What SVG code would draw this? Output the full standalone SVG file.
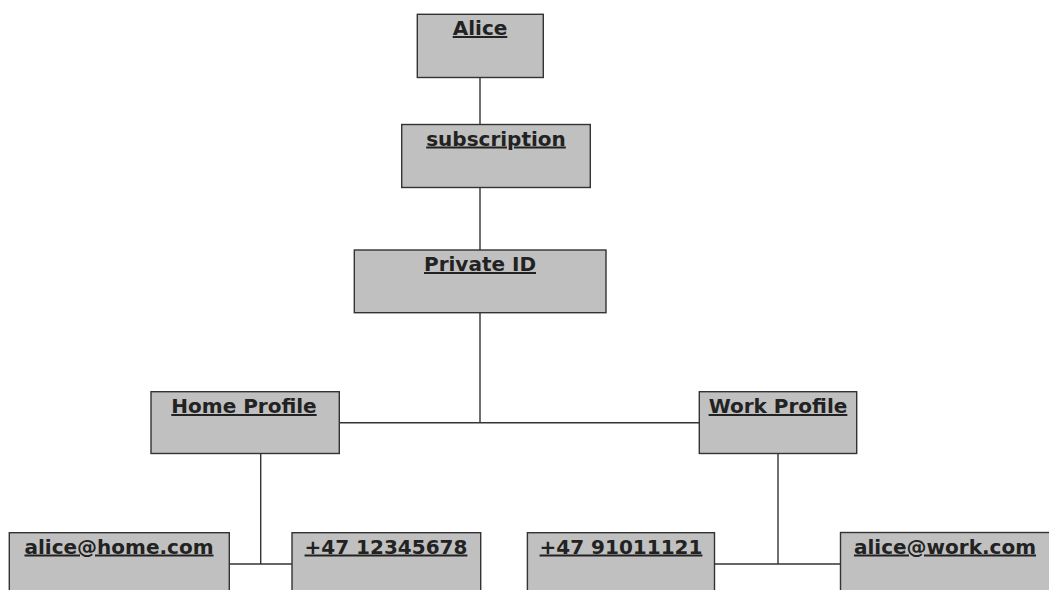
<svg xmlns="http://www.w3.org/2000/svg" width="1049" height="590" viewBox="0 0 1049 590">
  <style>
    .box { fill: #c0c0c0; stroke: #333333; stroke-width: 1.4; }
    .label { font-family: "DejaVu Sans", Verdana, sans-serif; font-weight: bold; font-size: 20px; fill: #222222; text-anchor: middle; text-decoration: underline; }
    .link { stroke: #333333; stroke-width: 1.4; fill: none; }
  </style>
  <rect width="1049" height="590" fill="#ffffff"/>

  <!-- tree connectors -->
  <g id="connectors">
    <path class="link" d="M480 77.5 V124.5"/>
    <path class="link" d="M480 187.5 V250"/>
    <path class="link" d="M480 313 V422.7"/>
    <path class="link" d="M339.3 422.7 H699.3"/>
    <path class="link" d="M260.7 453.5 V564"/>
    <path class="link" d="M229.3 564 H292"/>
    <path class="link" d="M778 453.5 V564"/>
    <path class="link" d="M714.5 564 H840.5"/>
  </g>

  <g id="alice">
    <rect class="box" x="417.3" y="14.3" width="126" height="63.2"/>
    <text class="label" x="480" y="35">Alice</text>
  </g>
  <g id="subscription">
    <rect class="box" x="401.7" y="124.5" width="188.6" height="63"/>
    <text class="label" x="496" y="145.5">subscription</text>
  </g>
  <g id="private-id">
    <rect class="box" x="354.3" y="250" width="251.7" height="62.7"/>
    <text class="label" x="480" y="271">Private ID</text>
  </g>
  <g id="home-profile">
    <rect class="box" x="151" y="391.7" width="188.3" height="61.8"/>
    <text class="label" x="244" y="413">Home Profile</text>
  </g>
  <g id="work-profile">
    <rect class="box" x="699.3" y="391.7" width="157.4" height="61.8"/>
    <text class="label" x="778" y="413">Work Profile</text>
  </g>
  <g id="home-email">
    <rect class="box" x="9.3" y="532.7" width="220" height="70"/>
    <text class="label" x="119" y="553.5">alice@home.com</text>
  </g>
  <g id="home-phone">
    <rect class="box" x="292" y="532.7" width="188.7" height="70"/>
    <text class="label" x="386" y="553.5">+47 12345678</text>
  </g>
  <g id="work-phone">
    <rect class="box" x="527.4" y="532.7" width="187.1" height="70"/>
    <text class="label" x="621" y="553.5">+47 91011121</text>
  </g>
  <g id="work-email">
    <rect class="box" x="840.5" y="532.5" width="220" height="70"/>
    <text class="label" x="945" y="553.5">alice@work.com</text>
  </g>
</svg>
